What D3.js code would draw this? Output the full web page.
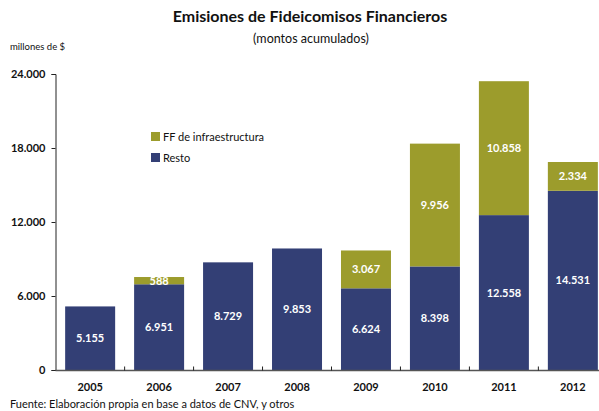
<!DOCTYPE html>
<html>
<head>
<meta charset="utf-8">
<script src="https://cdn.jsdelivr.net/npm/d3@7"></script>
<style>
  body { margin: 0; background: #fff; }
  svg { display: block; font-family: Lato, "Open Sans", sans-serif; }
</style>
</head>
<body>
<svg id="chart" width="599" height="411"></svg>
<script>
// Emisiones de fideicomisos financieros, millones de $
const years = ["2005", "2006", "2007", "2008", "2009", "2010", "2011", "2012"];
const resto = [5155, 6951, 8729, 9853, 6624, 8398, 12558, 14531];
const infraestructura = [0, 588, 0, 0, 3067, 9956, 10858, 2334];
const yTicks = [0, 6000, 12000, 18000, 24000];
const seriesNames = ["Resto", "FF de infraestructura"];
const seriesColors = ["#333f75", "#9c9c2c"];

const svg = d3.select("#chart");
const fmt = v => d3.format(",")(v).replace(/,/g, ".");

const rows = years.map((y, i) => ({ year: y, Resto: resto[i], "FF de infraestructura": infraestructura[i] }));
const stacked = d3.stack().keys(seriesNames)(rows);

const x = d3.scaleBand().domain(years).range([55.5, 607.5]).paddingInner(0.275).paddingOuter(0.14);
const y = d3.scaleLinear().domain([0, 24000]).range([370, 74]);

// Titles
svg.append("text").attr("x", 310).attr("y", 22).attr("text-anchor", "middle")
  .attr("font-size", 16).attr("font-weight", "bold").attr("fill", "#111")
  .text("Emisiones de Fideicomisos Financieros");
svg.append("text").attr("x", 311).attr("y", 43).attr("text-anchor", "middle")
  .attr("font-size", 12.5).attr("fill", "#111").text("(montos acumulados)");
svg.append("text").attr("x", 10).attr("y", 50)
  .attr("font-size", 9.5).attr("fill", "#111").text("millones de $");

// Bars
const groups = svg.append("g").selectAll("g").data(stacked).join("g")
  .attr("fill", (d, i) => seriesColors[i]);
groups.selectAll("rect").data(d => d.filter(s => s[1] > s[0])).join("rect")
  .attr("x", d => x(d.data.year))
  .attr("width", x.bandwidth())
  .attr("y", d => y(d[1]))
  .attr("height", d => y(d[0]) - y(d[1]));

// Value labels inside segments
const labels = svg.append("g").attr("font-size", 11).attr("font-weight", "bold")
  .attr("fill", "#fff").attr("text-anchor", "middle");
stacked.forEach(layer => {
  layer.filter(s => s[1] > s[0]).forEach(s => {
    labels.append("text")
      .attr("x", x(s.data.year) + x.bandwidth() / 2)
      .attr("y", (y(s[0]) + y(s[1])) / 2)
      .attr("dy", "0.36em")
      .text(fmt(s[1] - s[0]));
  });
});

// Y axis
const yAxis = svg.append("g").attr("transform", "translate(55.5,0)")
  .call(d3.axisLeft(y).tickValues(yTicks).tickSize(4).tickFormat(fmt));
yAxis.select(".domain").attr("stroke", "#222");
yAxis.selectAll(".tick line").attr("stroke", "#222");
yAxis.selectAll("text").attr("font-size", 11).attr("font-weight", "bold")
  .attr("fill", "#111").attr("x", -10).attr("font-family", "Lato, sans-serif");

// X axis
const xAxis = svg.append("g").attr("transform", "translate(0,370.5)");
xAxis.append("line").attr("x1", 55.5).attr("x2", 599).attr("stroke", "#555").attr("stroke-width", 1.5);
const step = x.step();
const boundaries = years.slice(1).map(yr => x(yr) - step * x.paddingInner() / 2);
xAxis.selectAll("line.sep").data(boundaries).join("line").attr("class", "sep")
  .attr("x1", d => d).attr("x2", d => d).attr("y1", -4).attr("y2", 0)
  .attr("stroke", "#222");
xAxis.selectAll("text").data(years).join("text")
  .attr("x", d => x(d) + x.bandwidth() / 2).attr("y", 20)
  .attr("text-anchor", "middle").attr("font-size", 11).attr("font-weight", "bold")
  .attr("fill", "#111").text(d => d);

// Legend
const legendItems = [
  { name: "FF de infraestructura", color: seriesColors[1] },
  { name: "Resto", color: seriesColors[0] }
];
const legend = svg.append("g").attr("transform", "translate(151,132)");
legendItems.forEach((it, i) => {
  const g = legend.append("g").attr("transform", `translate(0,${i * 21})`);
  g.append("rect").attr("width", 9).attr("height", 9).attr("fill", it.color);
  g.append("text").attr("x", 12).attr("y", 8.5).attr("font-size", 11)
    .attr("fill", "#111").text(it.name);
});

// Source
svg.append("text").attr("x", 10).attr("y", 408).attr("font-size", 11)
  .attr("fill", "#111").text("Fuente: Elaboración propia en base a datos de CNV, y otros");
</script>
</body>
</html>
